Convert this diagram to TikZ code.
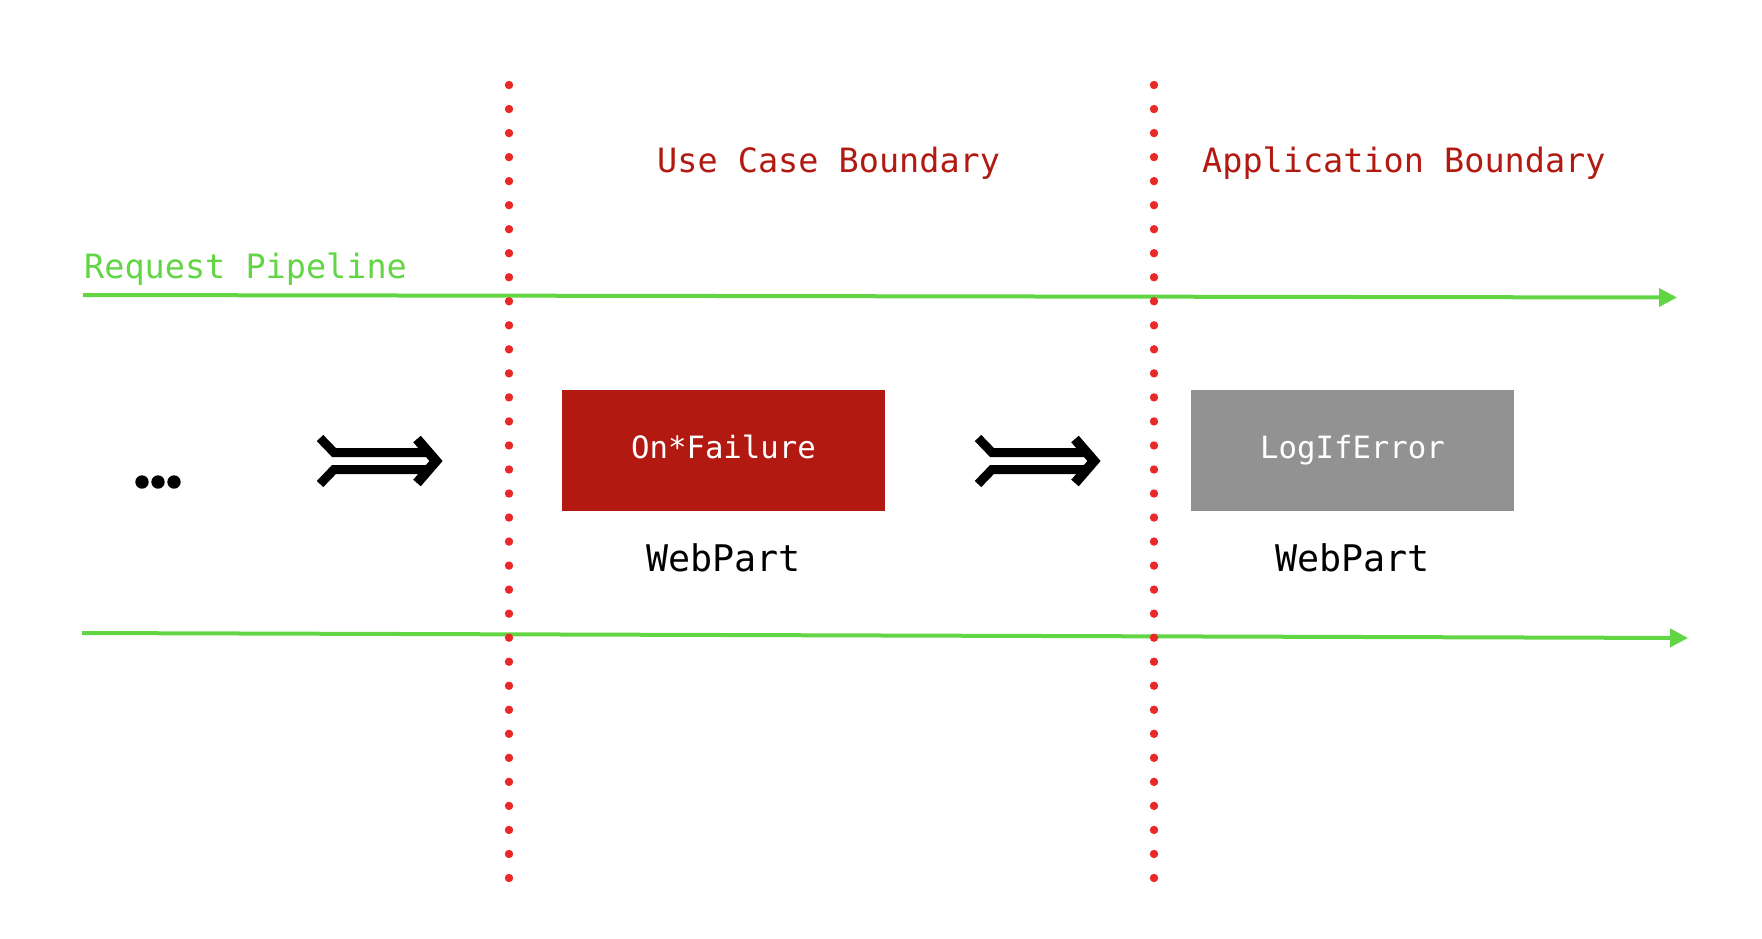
\documentclass[tikz,border=0pt]{standalone}
\usepackage{fontspec}
\setmonofont{DejaVu Sans Mono}
\usepackage{tikz}
\usetikzlibrary{arrows.meta, positioning}

\definecolor{pipegreen}{RGB}{98,213,68}
\definecolor{dotred}{RGB}{234,40,40}
\definecolor{darkred}{RGB}{177,25,17}
\definecolor{partgray}{RGB}{146,146,146}

\begin{document}
\begin{tikzpicture}[
  x=1pt, y=-1pt,
  pipe/.style={draw=pipegreen, line width=4pt, -{Triangle[length=18pt, width=18pt]}},
  boundary/.style={draw=dotred, line width=8.4pt, line cap=round,
                   dash pattern=on 0pt off 24.03pt},
  bndlabel/.style={anchor=base west, inner sep=0pt, text=darkred,
                   font=\ttfamily\fontsize{33.5pt}{40pt}\selectfont},
  part/.style={minimum width=323pt, minimum height=121pt, inner sep=0pt, text=white,
               text height=23pt, text depth=7pt,
               font=\ttfamily\fontsize{30.7pt}{36pt}\selectfont},
  caption/.style={inner sep=0pt, font=\ttfamily\fontsize{36.7pt}{44pt}\selectfont},
  fwd/.pic={
    \draw[line width=9pt, line join=miter] (3,-23) -- (17,-8.5) -- (112,-8.5);
    \draw[line width=9pt, line join=miter] (3,23) -- (17,8.5) -- (112,8.5);
    \draw[line width=10pt, line join=miter] (100,-22) -- (119,0) -- (100,22);
  },
]
  \useasboundingbox (0,0) rectangle (1762,938);

  % request pipeline
  \coordinate (topA) at (83,295);
  \coordinate (topB) at (1677,297.5);
  \coordinate (botA) at (82,633);
  \coordinate (botB) at (1688,638);
  \draw[pipe] (topA) -- (topB);
  \draw[pipe] (botA) -- (botB);
  \node[bndlabel, text=pipegreen] (pipelabel) at (84,278) {Request Pipeline};

  % boundaries
  \draw[boundary] (509,85) -- (509,880);
  \draw[boundary] (1154,85) -- (1154,880);
  \node[bndlabel] (usecase) at (657,172) {Use Case Boundary};
  \node[bndlabel] (appbnd)  at (1202,172) {Application Boundary};

  % web parts
  \node[part, fill=darkred]  (onfail) at (723.5,450.5) {On*Failure};
  \node[part, fill=partgray] (logerr) at (1352.5,450.5) {LogIfError};
  \node[caption, below=32pt of onfail] (onfailcap) {WebPart};
  \node[caption, below=32pt of logerr] (logerrcap) {WebPart};

  % ellipsis and composition arrows
  \foreach \dx in {142,158,174}
    \fill (\dx,482) circle (6.7);
  \pic at (317,461) {fwd};
  \pic at (975,461) {fwd};
\end{tikzpicture}
\end{document}
